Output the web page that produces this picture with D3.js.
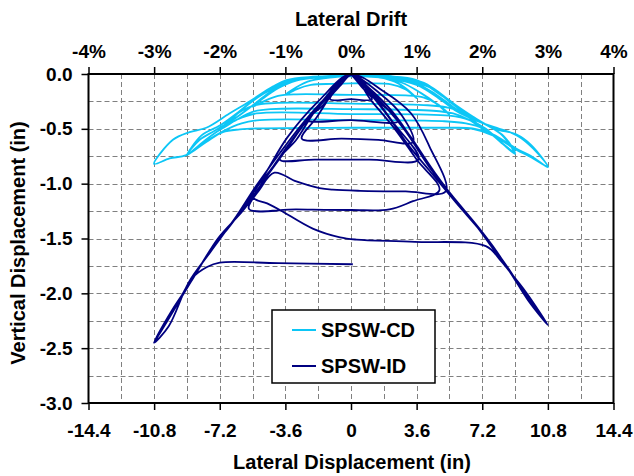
<!DOCTYPE html>
<html>
<head>
<meta charset="utf-8">
<script src="https://cdn.jsdelivr.net/npm/d3@7"></script>
<style>
  html, body { margin: 0; padding: 0; background: #fff; }
  svg { display: block; font-family: "Liberation Sans", Arial, sans-serif; font-weight: bold; }
</style>
</head>
<body>
<svg id="chart" width="634" height="476"></svg>
<script>
// ---------- DATA ----------
const xTicks = [-14.4, -10.8, -7.2, -3.6, 0, 3.6, 7.2, 10.8, 14.4];
const xTickLabels = ["-14.4", "-10.8", "-7.2", "-3.6", "0", "3.6", "7.2", "10.8", "14.4"];
const xGrid = [-12.6, -10.8, -9.0, -7.2, -5.4, -3.6, -1.8, 0, 1.8, 3.6, 5.4, 7.2, 9.0, 10.8, 12.6];
const yTicks = [0, -0.5, -1.0, -1.5, -2.0, -2.5, -3.0];
const yTickLabels = ["0.0", "-0.5", "-1.0", "-1.5", "-2.0", "-2.5", "-3.0"];
const yGrid = [-0.25, -0.5, -0.75, -1.0, -1.25, -1.5, -1.75, -2.0, -2.25, -2.5, -2.75];
const driftTicks = [-4, -3, -2, -1, 0, 1, 2, 3, 4];
const driftTickLabels = ["-4%", "-3%", "-2%", "-1%", "0%", "1%", "2%", "3%", "4%"];
const seriesNames = ["SPSW-CD", "SPSW-ID"];

// SPSW-CD: lateral displacement (in), vertical displacement (in)
const cdPath = [
  [0,0],[0.8,-0.01],[1.6,-0.03],[2.4,-0.07],[3.0,-0.13],[3.6,-0.22],
  [3.0,-0.14],[2.2,-0.095],[1,-0.085],[0,-0.085],[-1,-0.09],[-2.2,-0.1],[-3.0,-0.14],[-3.6,-0.19],
  [-3.0,-0.12],[-2.2,-0.06],[-1,-0.03],[0,-0.02],[1.5,-0.03],[2.8,-0.08],[3.8,-0.17],[4.6,-0.26],[5.4,-0.37],
  [4.8,-0.28],[4.0,-0.215],[3,-0.195],[0,-0.19],[-3,-0.185],[-4.0,-0.2],[-4.8,-0.25],[-5.4,-0.3],
  [-4.8,-0.22],[-4.0,-0.13],[-3,-0.06],[-1.5,-0.03],[0,-0.02],[2,-0.04],[3.6,-0.1],[4.8,-0.22],[5.8,-0.34],[6.6,-0.41],[7.2,-0.5],
  [6.4,-0.38],[5.4,-0.31],[4.2,-0.285],[0,-0.27],[-4.2,-0.265],[-5.4,-0.29],[-6.4,-0.38],[-7.2,-0.51],
  [-6.5,-0.4],[-5.6,-0.27],[-4.6,-0.16],[-3.5,-0.07],[-2,-0.03],[0,-0.02],[2,-0.03],[3.5,-0.08],[4.6,-0.18],[5.6,-0.3],[6.5,-0.4],[7.2,-0.5],
  [6.5,-0.42],[5.6,-0.36],[4.5,-0.335],[0,-0.32],[-4.4,-0.32],[-5.4,-0.345],[-6.3,-0.42],[-7.2,-0.51],
  [-6.6,-0.42],[-5.8,-0.3],[-4.8,-0.18],[-3.6,-0.08],[-2,-0.03],[0,-0.02],[2.5,-0.04],[4.3,-0.12],[5.6,-0.27],[6.7,-0.4],[7.6,-0.48],[8.4,-0.57],[9.0,-0.72],
  [8.3,-0.63],[7.4,-0.5],[6.5,-0.42],[5.4,-0.38],[0,-0.365],[-5.2,-0.36],[-6.3,-0.42],[-7.3,-0.52],[-8.2,-0.63],[-9.0,-0.74],
  [-8.2,-0.56],[-7.2,-0.47],[-6.2,-0.35],[-5.2,-0.22],[-4.0,-0.1],[-2.5,-0.04],[0,-0.02],[2.5,-0.03],[4.2,-0.1],[5.4,-0.24],[6.5,-0.38],[7.5,-0.47],[8.3,-0.56],[9.0,-0.73],
  [8.2,-0.62],[7.3,-0.5],[6.3,-0.45],[5,-0.43],[0,-0.42],[-5,-0.42],[-6.0,-0.45],[-7.0,-0.52],[-8.0,-0.62],[-9.0,-0.74],
  [-8.3,-0.6],[-7.5,-0.52],[-6.5,-0.42],[-5.5,-0.3],[-4.5,-0.17],[-3.5,-0.08],[-2,-0.03],[0,-0.01],[2.2,-0.02],[4.0,-0.08],[5.4,-0.25],[6.8,-0.42],[8.0,-0.49],[9.1,-0.56],[10.0,-0.68],[10.8,-0.845],
  [9.9,-0.76],[9.06,-0.69],[7.78,-0.56],[6.67,-0.5],[5,-0.49],[0,-0.49],[-5,-0.495],[-6.1,-0.505],[-7.03,-0.53],[-7.94,-0.62],[-9.04,-0.74],[-9.95,-0.77],[-10.8,-0.82],
  [-9.77,-0.6],[-8.86,-0.53],[-7.94,-0.49],[-6.67,-0.36],[-5.57,-0.25],[-4.29,-0.115],[-3.55,-0.055],[-2.1,-0.025],[0,-0.015],[2,-0.02],[3.6,-0.055],[5.0,-0.2],[6.7,-0.39],[7.9,-0.5],[9.06,-0.55],[9.9,-0.65],[10.8,-0.85],
  [9.9,-0.75],[9.06,-0.68],[7.78,-0.55],[6.67,-0.495],[5,-0.49],[2,-0.49],[0.1,-0.49]
];

// SPSW-ID: lateral displacement (in), vertical displacement (in)
const idPath = [
  [0,0],[0.55,-0.11],[1.15,-0.23],
  [0,-0.23],[-1.15,-0.23],
  [-0.55,-0.1],[0,-0.01],
  [0.8,-0.12],[1.5,-0.25],[2.6,-0.43],
  [0,-0.42],[-2.4,-0.42],
  [-1.5,-0.28],[-0.7,-0.1],[0,-0.01],
  [1.6,-0.18],[2.8,-0.38],[3.4,-0.62],
  [1.5,-0.6],[-0.5,-0.59],[-2.7,-0.59],
  [-1.9,-0.4],[-0.9,-0.15],[0,0],
  [1.2,-0.2],[2.3,-0.44],[3.7,-0.78],
  [1.0,-0.78],[-2.0,-0.78],[-3.9,-0.78],
  [-3.0,-0.6],[-1.8,-0.3],[0,-0.01],
  [1.8,-0.16],[3.3,-0.36],[4.3,-0.66],[5.2,-1.07],
  [3.0,-1.07],[0.5,-1.065],[-1.0,-1.055],[-1.73,-1.04],[-3.0,-0.98],[-4.2,-0.9],
  [-5.0,-1.05],[-5.6,-1.23],
  [-3.0,-1.235],[0,-1.24],[2.1,-1.235],[3.4,-1.16],[4.85,-1.06],
  [3.6,-0.78],[2.4,-0.5],[1.1,-0.24],[0,-0.01],
  [-1.5,-0.25],[-3.0,-0.55],[-4.3,-0.85],[-5.4,-1.12],
  [-4.6,-1.18],[-3.9,-1.24],[-2.1,-1.41],[-0.6,-1.49],[0.3,-1.51],[3.5,-1.53],[7.4,-1.57],
  [8.2,-1.7],[8.7,-1.8],[9.6,-1.99],[10.8,-2.29],
  [9.9,-2.1],[8.7,-1.79],[7.8,-1.58],[7.1,-1.43],[5.8,-1.18],[4.3,-0.88],[3.2,-0.66],[2.1,-0.4],[0.9,-0.15],[0,0],
  [-1.0,-0.14],[-2.4,-0.42],[-3.6,-0.7],[-4.9,-1.0],[-5.9,-1.24],[-7.3,-1.5],[-8.8,-1.9],[-9.8,-2.15],[-10.8,-2.45],
  [-10.0,-2.3],[-8.9,-1.9],[-7.7,-1.62],[-6.3,-1.3],[-5.2,-1.02],[-3.9,-0.72],[-2.6,-0.44],[-1.3,-0.2],[0,0],
  [1.2,-0.18],[2.9,-0.5],[4.3,-0.85],[5.6,-1.12],[7.0,-1.4],[8.0,-1.62],[8.7,-1.8],[9.8,-2.05],[10.8,-2.29],
  [9.7,-2.06],[8.7,-1.8],[7.6,-1.55],[6.9,-1.39],[6.2,-1.25],[4.6,-0.9],[3.3,-0.58],[2.2,-0.33],[1.0,-0.13],[0,0],
  [-1.8,-0.25],[-3.5,-0.58],[-4.6,-0.88],[-5.5,-1.12],[-6.8,-1.42],[-7.5,-1.55],[-8.8,-1.9],[-9.9,-2.2],[-10.8,-2.45],
  [-9.6,-2.12],[-8.7,-1.86],[-7.9,-1.76],[-7.2,-1.72],[-4.0,-1.725],[0.1,-1.735]
];

const colors = ["#0cc6f6", "#000080"];

// ---------- LAYOUT ----------
const svg = d3.select("#chart");
const L = 88.5, R = 613.5, T = 74, B = 403;

const x = d3.scaleLinear().domain([-14.4, 14.4]).range([L, R]);
const xDrift = d3.scaleLinear().domain([-4, 4]).range([L, R]);
const y = d3.scaleLinear().domain([-3, 0]).range([B, T]);

// grid
const grid = svg.append("g").attr("stroke", "#808080").attr("stroke-width", 1).attr("stroke-dasharray", "5,3");
grid.selectAll("line.v").data(xGrid).join("line").attr("class", "v")
  .attr("x1", d => Math.round(x(d)) + 0.5).attr("x2", d => Math.round(x(d)) + 0.5)
  .attr("y1", T).attr("y2", B);
grid.selectAll("line.h").data(yGrid).join("line").attr("class", "h")
  .attr("x1", L).attr("x2", R)
  .attr("y1", d => Math.round(y(d)) + 0.5).attr("y2", d => Math.round(y(d)) + 0.5);

// series
const line = d3.line().x(d => x(d[0])).y(d => y(d[1])).curve(d3.curveCatmullRom.alpha(0.5));
svg.append("path").datum(cdPath).attr("d", line)
  .attr("fill", "none").attr("stroke", colors[0]).attr("stroke-width", 1.8).attr("stroke-linejoin", "round");
svg.append("path").datum(idPath).attr("d", line)
  .attr("fill", "none").attr("stroke", colors[1]).attr("stroke-width", 1.8).attr("stroke-linejoin", "round");

// axes
const fs = 19;
const bottomAxis = d3.axisBottom(x).tickValues(xTicks).tickSize(7).tickPadding(14)
  .tickFormat((d, i) => xTickLabels[i]);
const gb = svg.append("g").attr("transform", `translate(0,${B})`).call(bottomAxis);

const topAxis = d3.axisTop(xDrift).tickValues(driftTicks).tickSize(7).tickPadding(9)
  .tickFormat((d, i) => driftTickLabels[i]);
const gt = svg.append("g").attr("transform", `translate(0,${T})`).call(topAxis);

const leftAxis = d3.axisLeft(y).tickValues(yTicks).tickSize(7).tickPadding(9)
  .tickFormat((d, i) => yTickLabels[i]);
const gl = svg.append("g").attr("transform", `translate(${L},0)`).call(leftAxis);

[gb, gt, gl].forEach(g => {
  g.select(".domain").remove();
  g.selectAll(".tick line").attr("stroke", "#000").attr("stroke-width", 1.5);
  g.selectAll(".tick text").attr("fill", "#000").style("font-size", fs + "px")
    .style("font-weight", "bold").style("font-family", '"Liberation Sans", Arial, sans-serif');
});

// frame
svg.append("rect").attr("x", L).attr("y", T).attr("width", R - L).attr("height", B - T)
  .attr("fill", "none").attr("stroke", "#000").attr("stroke-width", 2);

// titles
svg.append("text").attr("x", (L + R) / 2).attr("y", 26).attr("text-anchor", "middle")
  .style("font-size", "20px").text("Lateral Drift");
svg.append("text").attr("x", (L + R) / 2 + 1).attr("y", 469).attr("text-anchor", "middle")
  .style("font-size", "20px").text("Lateral Displacement (in)");
svg.append("text").attr("transform", "translate(25,243) rotate(-90)").attr("text-anchor", "middle")
  .style("font-size", "20px").text("Vertical Displacement (in)");

// legend
const lg = svg.append("g");
lg.append("rect").attr("x", 272).attr("y", 310).attr("width", 163).attr("height", 73)
  .attr("fill", "#fff").attr("stroke", "#000").attr("stroke-width", 1.5);
seriesNames.forEach((name, i) => {
  const ly = 330 + i * 36;
  lg.append("line").attr("x1", 292).attr("x2", 316).attr("y1", ly).attr("y2", ly)
    .attr("stroke", colors[i]).attr("stroke-width", 2);
  lg.append("text").attr("x", 321).attr("y", ly).attr("dy", "0.36em")
    .style("font-size", "20px").text(name);
});
</script>
</body>
</html>
